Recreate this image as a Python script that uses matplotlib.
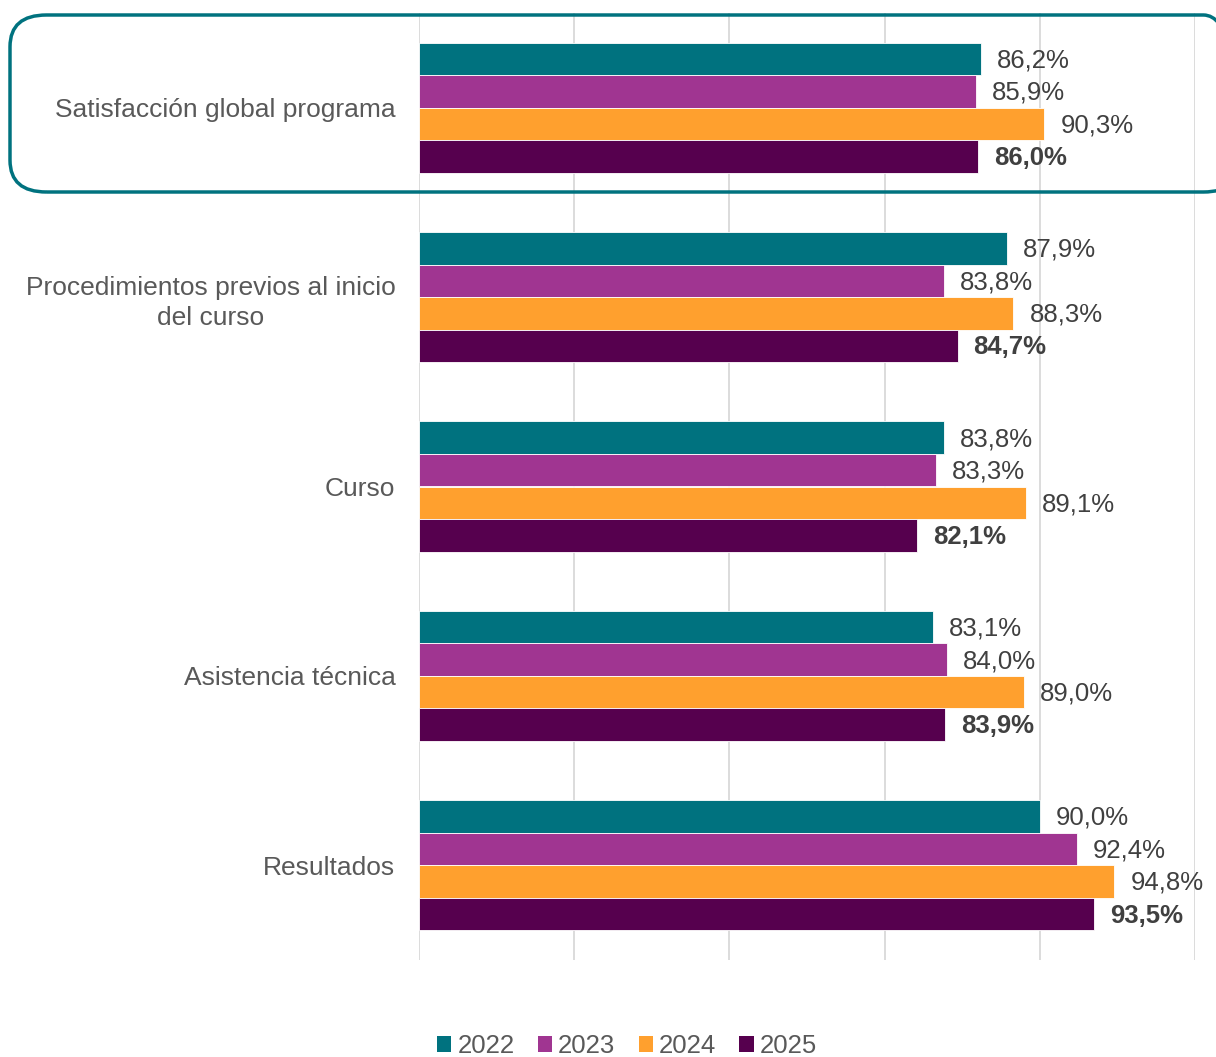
import numpy as np
import matplotlib.pyplot as plt
from matplotlib.patches import FancyBboxPatch, Patch

plt.rcParams['font.family'] = ['Liberation Sans', 'DejaVu Sans']

categorias = ["Satisfacción global programa",
              "Procedimientos previos al inicio\ndel curso",
              "Curso",
              "Asistencia técnica",
              "Resultados"]
anios = ["2022", "2023", "2024", "2025"]
valores = {
    "2022": [86.2, 87.9, 83.8, 83.1, 90.0],
    "2023": [85.9, 83.8, 83.3, 84.0, 92.4],
    "2024": [90.3, 88.3, 89.1, 89.0, 94.8],
    "2025": [86.0, 84.7, 82.1, 83.9, 93.5],
}
colores = ["#00727F", "#A03591", "#FFA02E", "#56004E"]

fig = plt.figure(figsize=(12.16, 10.57), dpi=100)
ax = fig.add_axes([419 / 1216, 1 - 960 / 1057, 776 / 1216, 947 / 1057])

y = np.arange(len(categorias))
alto = 0.172
for i, anio in enumerate(anios):
    pos = y + (i - 1.5) * alto
    ax.barh(pos, np.array(valores[anio]) - 50, left=50, height=alto,
            color=colores[i], edgecolor="white", linewidth=0.6, zorder=3)
    for p, v in zip(pos, valores[anio]):
        etiqueta = f"{v:.1f}%".replace(".", ",")
        ax.annotate(etiqueta, (v, p), xytext=(11.5, -1), textcoords="offset points",
                    ha="left", va="center", fontsize=18.5, color="#404040",
                    fontweight="bold" if anio == "2025" else "normal")

ax.set_xlim(50, 100)
ax.set_ylim(4.5, -0.5)
ax.set_xticks([50, 60, 70, 80, 90, 100])
ax.set_xticklabels([])
ax.tick_params(axis="x", length=0)
ax.grid(axis="x", color="#D9D9D9", linewidth=1.3, zorder=0)
ax.set_yticks(y)
ax.set_yticklabels(categorias, fontsize=19, color="#595959",
                   multialignment="center", linespacing=1.35)
ax.tick_params(axis="y", length=0, pad=17)
for s in ax.spines.values():
    s.set_visible(False)

# recuadro redondeado alrededor de la primera categoría
caja = FancyBboxPatch((10 / 1216, 1 - 192 / 1057), 1230 / 1216, 177 / 1057,
                      boxstyle="round,pad=0,rounding_size=0.03",
                      transform=fig.transFigure, fill=False,
                      edgecolor="#00727F", linewidth=2.5, zorder=10)
fig.patches.append(caja)

handles = [Patch(facecolor=c, label=a) for c, a in zip(colores, anios)]
fig.legend(handles=handles, loc="center", bbox_to_anchor=(627 / 1216, 1 - 1046 / 1057),
           ncol=4, frameon=False, fontsize=18.5, handlelength=0.55, handleheight=0.55,
           handletextpad=0.25, columnspacing=0.9, labelcolor="#595959")

fig.savefig("out.png", dpi=100)
